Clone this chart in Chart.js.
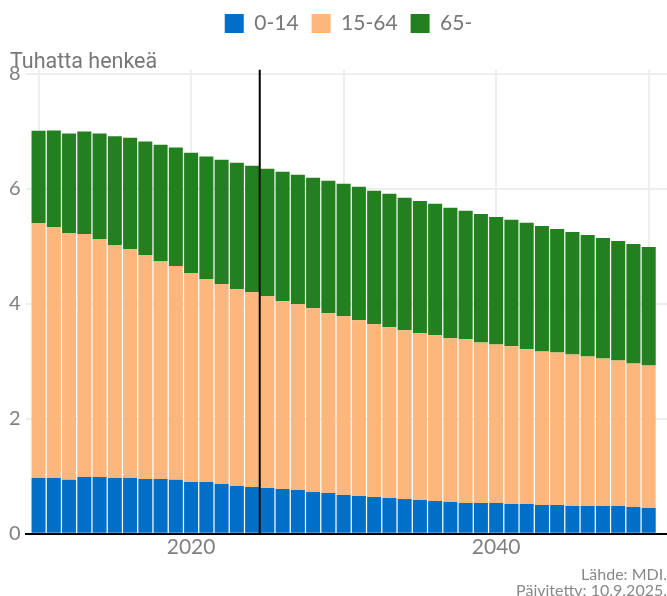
<!DOCTYPE html>
<html>
<head>
<meta charset="utf-8">
<script src="https://cdn.jsdelivr.net/npm/chart.js@4"></script>
<style>
  html, body { margin: 0; padding: 0; background: #fff; }
  #wrap { width: 667px; height: 596px; position: relative; }
</style>
</head>
<body>
<div id="wrap"><canvas id="c" width="667" height="596"></canvas></div>
<script>
const years = [2010,2011,2012,2013,2014,2015,2016,2017,2018,2019,2020,2021,2022,2023,2024,2025,2026,2027,2028,2029,2030,2031,2032,2033,2034,2035,2036,2037,2038,2039,2040,2041,2042,2043,2044,2045,2046,2047,2048,2049,2050];
const age0_14 = [0.972,0.972,0.938,0.990,0.990,0.972,0.972,0.955,0.955,0.938,0.903,0.903,0.868,0.833,0.815,0.798,0.780,0.763,0.728,0.711,0.676,0.658,0.641,0.623,0.606,0.588,0.571,0.553,0.536,0.536,0.536,0.519,0.519,0.501,0.501,0.484,0.484,0.484,0.484,0.466,0.449];
const age15_64 = [4.434,4.365,4.295,4.225,4.138,4.050,3.980,3.893,3.788,3.719,3.631,3.527,3.474,3.422,3.387,3.334,3.265,3.230,3.195,3.125,3.108,3.055,3.003,2.968,2.933,2.898,2.881,2.846,2.846,2.793,2.758,2.741,2.689,2.671,2.654,2.636,2.601,2.566,2.531,2.497,2.479];
const age65 = [1.606,1.676,1.728,1.781,1.833,1.891,1.938,1.973,2.025,2.060,2.095,2.130,2.165,2.200,2.200,2.217,2.252,2.252,2.270,2.304,2.304,2.322,2.322,2.322,2.304,2.304,2.287,2.270,2.235,2.235,2.217,2.200,2.200,2.182,2.147,2.130,2.112,2.095,2.078,2.078,2.060];
const seriesNames = ['0-14', '15-64', '65-'];
const xTickLabels = {2020: '2020', 2040: '2040'};
const yTicks = [0, 2, 4, 6, 8];
const forecastStart = 2024.5;
const yTitle = 'Tuhatta henkeä';
const sourceLines = ['Lähde: MDI.', 'Päivitettv: 10.9.2025.'];

const colors = ['#006fc8', '#fdb67c', '#22801f'];
const toXY = arr => arr.map((v, i) => ({x: years[i], y: v}));

const extras = {
  id: 'extras',
  afterLayout(chart) {
    if (chart.legend) { chart.legend.left += 13; chart.legend.right += 13; }
    if (chart.titleBlock) { chart.titleBlock.left += 6; chart.titleBlock.right += 6; }
  },
  afterDatasetsDraw(chart) {
    const {ctx, chartArea, scales} = chart;
    const x = scales.x.getPixelForValue(forecastStart);
    ctx.save();
    ctx.strokeStyle = '#000';
    ctx.lineWidth = 2;
    ctx.beginPath();
    ctx.moveTo(x, chartArea.top);
    ctx.lineTo(x, chartArea.bottom);
    ctx.stroke();
    ctx.restore();
  },
  afterDraw(chart) {
    const {ctx} = chart;
    ctx.save();
    ctx.fillStyle = '#888';
    ctx.font = '16px Lato';
    ctx.textAlign = 'right';
    ctx.textBaseline = 'alphabetic';
    ctx.fillText(sourceLines[0], 667, 580);
    ctx.fillText(sourceLines[1], 667, 596);
    ctx.restore();
  }
};

new Chart(document.getElementById('c'), {
  type: 'bar',
  data: {
    datasets: [
      {label: seriesNames[0], data: toXY(age0_14), backgroundColor: colors[0], borderWidth: 0},
      {label: seriesNames[1], data: toXY(age15_64), backgroundColor: colors[1], borderWidth: 0},
      {label: seriesNames[2], data: toXY(age65), backgroundColor: colors[2], borderWidth: 0}
    ]
  },
  options: {
    responsive: false,
    animation: false,
    devicePixelRatio: 1,
    layout: {padding: {left: 4, right: 0, top: 0, bottom: 35}},
    datasets: {bar: {barPercentage: 0.92, categoryPercentage: 1}},
    plugins: {
      legend: {
        position: 'top',
        labels: {
          boxWidth: 19, boxHeight: 19, padding: 13,
          color: '#777', font: {family: 'Lato', size: 21}
        }
      },
      title: {
        display: true,
        text: yTitle,
        align: 'start',
        weight: 500,
        color: '#777',
        font: {family: 'Roboto', size: 21.5, weight: 'normal'},
        padding: {top: 6, bottom: -6}
      },
      tooltip: {enabled: false}
    },
    scales: {
      x: {
        type: 'linear',
        stacked: true,
        offset: false,
        min: 2009.15,
        max: 2051.2,
        grid: {color: '#eeeeee', lineWidth: 2, drawTicks: false, offset: false},
        border: {display: true, color: '#000', width: 2},
        ticks: {
          stepSize: 10,
          includeBounds: false,
          padding: 1,
          color: '#808080',
          font: {family: 'Lato', size: 21},
          maxRotation: 0,
          autoSkip: false,
          callback: v => xTickLabels[v] || ''
        }
      },
      y: {
        stacked: true,
        min: 0,
        max: 8.07,
        grid: {color: '#eeeeee', lineWidth: 2, drawTicks: false},
        border: {display: false},
        afterBuildTicks: scale => { scale.ticks = yTicks.map(v => ({value: v})); },
        ticks: {
          padding: 5,
          color: '#808080',
          font: {family: 'Lato', size: 20}
        }
      }
    }
  },
  plugins: [extras]
});
</script>
</body>
</html>
